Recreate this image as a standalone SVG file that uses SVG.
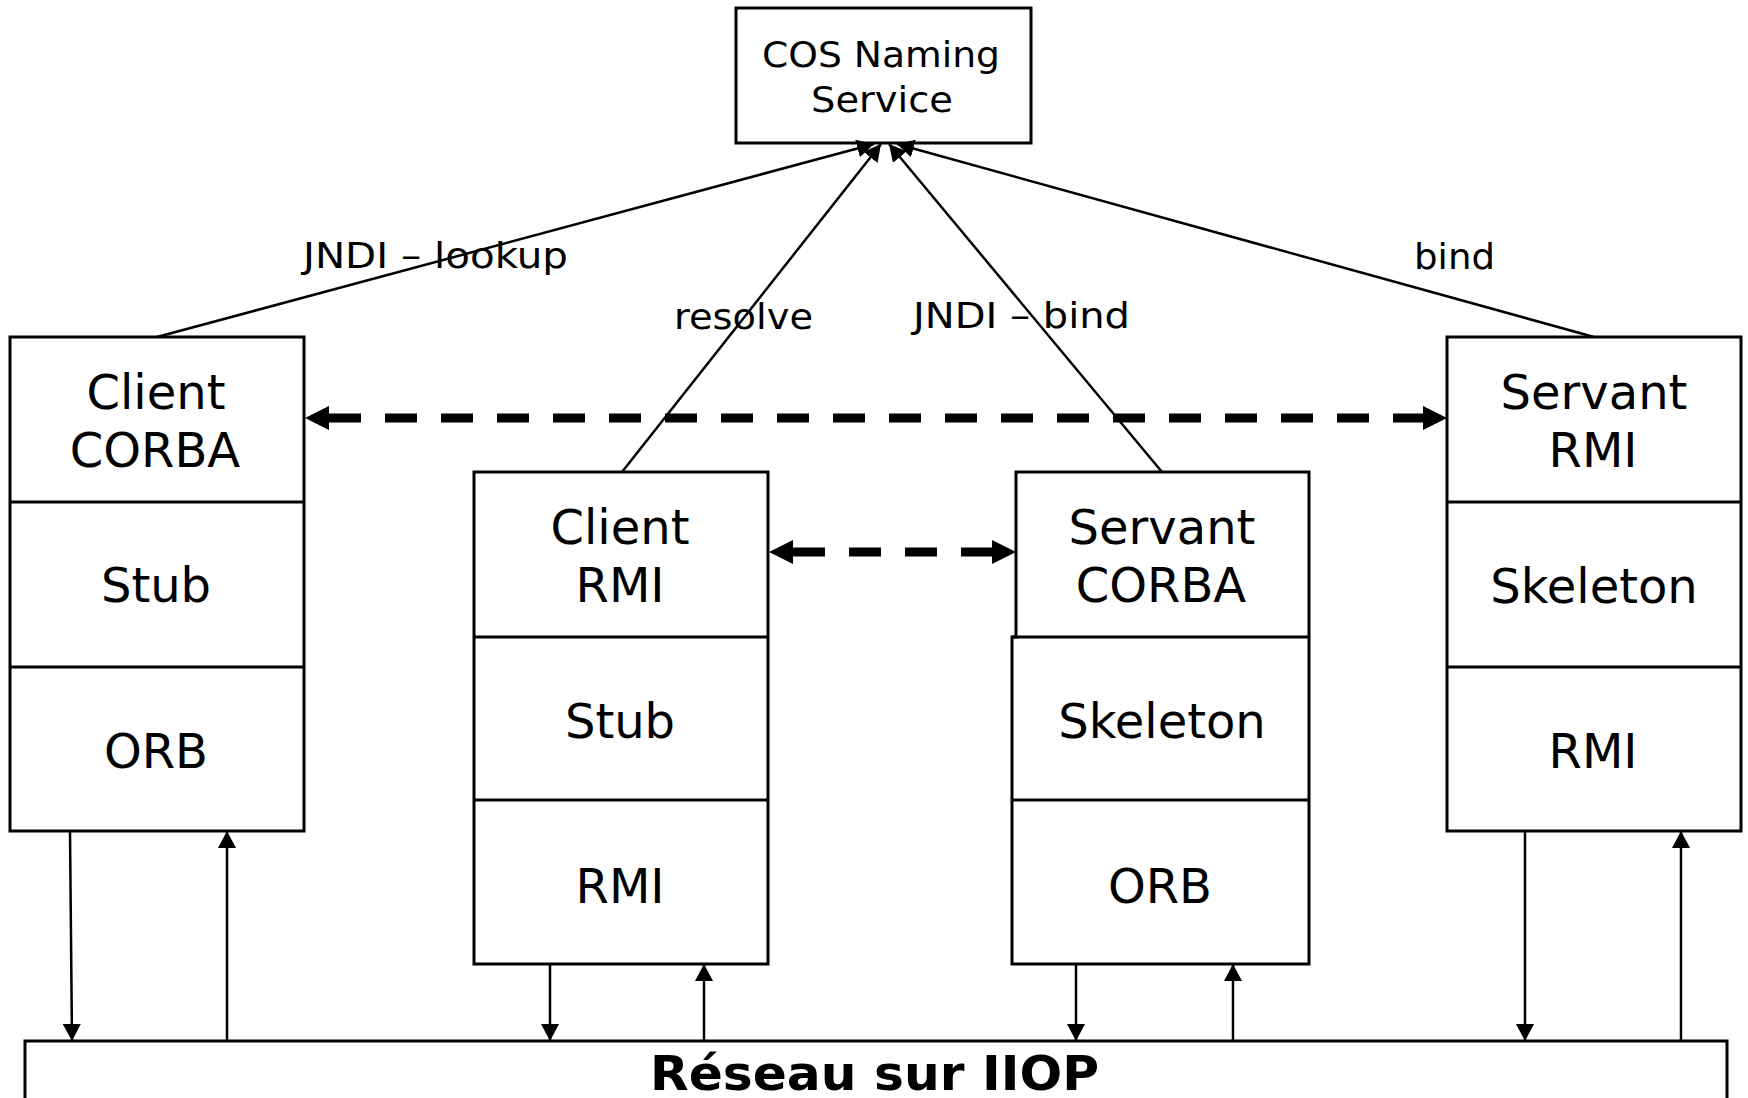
<svg xmlns="http://www.w3.org/2000/svg" width="1748" height="1098" viewBox="0 0 1748 1098">
<style>
.box{fill:#fff;stroke:#000;stroke-width:3}
.div{stroke:#000;stroke-width:3}
.t{font-family:"DejaVu Sans","Verdana",sans-serif;font-size:48px;text-anchor:middle;fill:#000}
.s{font-family:"DejaVu Sans","Verdana",sans-serif;font-size:35px;fill:#000}
.b{font-family:"DejaVu Sans","Verdana",sans-serif;font-size:48px;font-weight:bold;fill:#000}
.thin{stroke:#000;stroke-width:2.5;fill:none}
.dash{stroke:#000;stroke-width:9;stroke-dasharray:32 24;fill:none}
</style>
<defs>
<marker id="a" markerUnits="userSpaceOnUse" markerWidth="18" markerHeight="18" refX="17" refY="9" orient="auto"><path d="M0,0 L17,9 L0,18 z" fill="#000"/></marker>
<marker id="d" markerUnits="userSpaceOnUse" markerWidth="24" markerHeight="24" refX="0" refY="12" orient="auto-start-reverse"><path d="M0,0 L24,12 L0,24 z" fill="#000"/></marker>
</defs>
<rect width="1748" height="1098" fill="#fff"/>

<g id="cos">
<rect class="box" x="736" y="8" width="295" height="135"/>
<text class="s" x="762" y="67" textLength="238" lengthAdjust="spacingAndGlyphs">COS Naming</text>
<text class="s" x="811" y="112" textLength="142" lengthAdjust="spacingAndGlyphs">Service</text>
</g>

<g id="client-corba">
<rect class="box" x="10" y="337" width="294" height="494"/>
<line class="div" x1="10" y1="502" x2="304" y2="502"/>
<line class="div" x1="10" y1="667" x2="304" y2="667"/>
<text class="t" x="156" y="409">Client</text>
<text class="t" x="155" y="467">CORBA</text>
<text class="t" x="156" y="602">Stub</text>
<text class="t" x="156" y="768">ORB</text>
</g>

<g id="client-rmi">
<rect class="box" x="474" y="472" width="294" height="492"/>
<line class="div" x1="474" y1="637" x2="768" y2="637"/>
<line class="div" x1="474" y1="800" x2="768" y2="800"/>
<text class="t" x="620" y="544">Client</text>
<text class="t" x="620" y="602">RMI</text>
<text class="t" x="620" y="738">Stub</text>
<text class="t" x="620" y="903">RMI</text>
</g>

<g id="servant-corba">
<path class="box" d="M1016,637 L1016,472 L1309,472 L1309,964 L1012,964 L1012,637 Z"/>
<line class="div" x1="1012" y1="637" x2="1309" y2="637"/>
<line class="div" x1="1012" y1="800" x2="1309" y2="800"/>
<text class="t" x="1162" y="544">Servant</text>
<text class="t" x="1161" y="602">CORBA</text>
<text class="t" x="1162" y="738">Skeleton</text>
<text class="t" x="1160" y="903">ORB</text>
</g>

<g id="servant-rmi">
<rect class="box" x="1447" y="337" width="294" height="494"/>
<line class="div" x1="1447" y1="502" x2="1741" y2="502"/>
<line class="div" x1="1447" y1="667" x2="1741" y2="667"/>
<text class="t" x="1594" y="409">Servant</text>
<text class="t" x="1593" y="467">RMI</text>
<text class="t" x="1594" y="603">Skeleton</text>
<text class="t" x="1593" y="768">RMI</text>
</g>

<g id="bus">
<rect class="box" x="25" y="1041" width="1702" height="80"/>
<text class="b" x="650" y="1090" textLength="449" lengthAdjust="spacingAndGlyphs">Réseau sur IIOP</text>
</g>

<g id="connectors">
<line class="thin" x1="157" y1="337" x2="874" y2="144" marker-end="url(#a)"/>
<line class="thin" x1="622" y1="472" x2="881" y2="144" marker-end="url(#a)"/>
<line class="thin" x1="1162" y1="472" x2="889" y2="144" marker-end="url(#a)"/>
<line class="thin" x1="1594" y1="337" x2="897" y2="144" marker-end="url(#a)"/>

<line class="dash" x1="329" y1="418" x2="1423" y2="418" marker-start="url(#d)" marker-end="url(#d)"/>
<line class="dash" x1="793" y1="552" x2="992" y2="552" marker-start="url(#d)" marker-end="url(#d)"/>

<line class="thin" x1="70" y1="831" x2="72" y2="1041" marker-end="url(#a)"/>
<line class="thin" x1="227" y1="1041" x2="227" y2="831" marker-end="url(#a)"/>
<line class="thin" x1="550" y1="964" x2="550" y2="1041" marker-end="url(#a)"/>
<line class="thin" x1="704" y1="1041" x2="704" y2="964" marker-end="url(#a)"/>
<line class="thin" x1="1076" y1="964" x2="1076" y2="1041" marker-end="url(#a)"/>
<line class="thin" x1="1233" y1="1041" x2="1233" y2="964" marker-end="url(#a)"/>
<line class="thin" x1="1525" y1="831" x2="1525" y2="1041" marker-end="url(#a)"/>
<line class="thin" x1="1681" y1="1041" x2="1681" y2="831" marker-end="url(#a)"/>

<text class="s" x="303" y="268" textLength="265" lengthAdjust="spacingAndGlyphs">JNDI – lookup</text>
<text class="s" x="674" y="329" textLength="139" lengthAdjust="spacingAndGlyphs">resolve</text>
<text class="s" x="913" y="328" textLength="217" lengthAdjust="spacingAndGlyphs">JNDI – bind</text>
<text class="s" x="1414" y="269" textLength="81" lengthAdjust="spacingAndGlyphs">bind</text>
</g>
</svg>
